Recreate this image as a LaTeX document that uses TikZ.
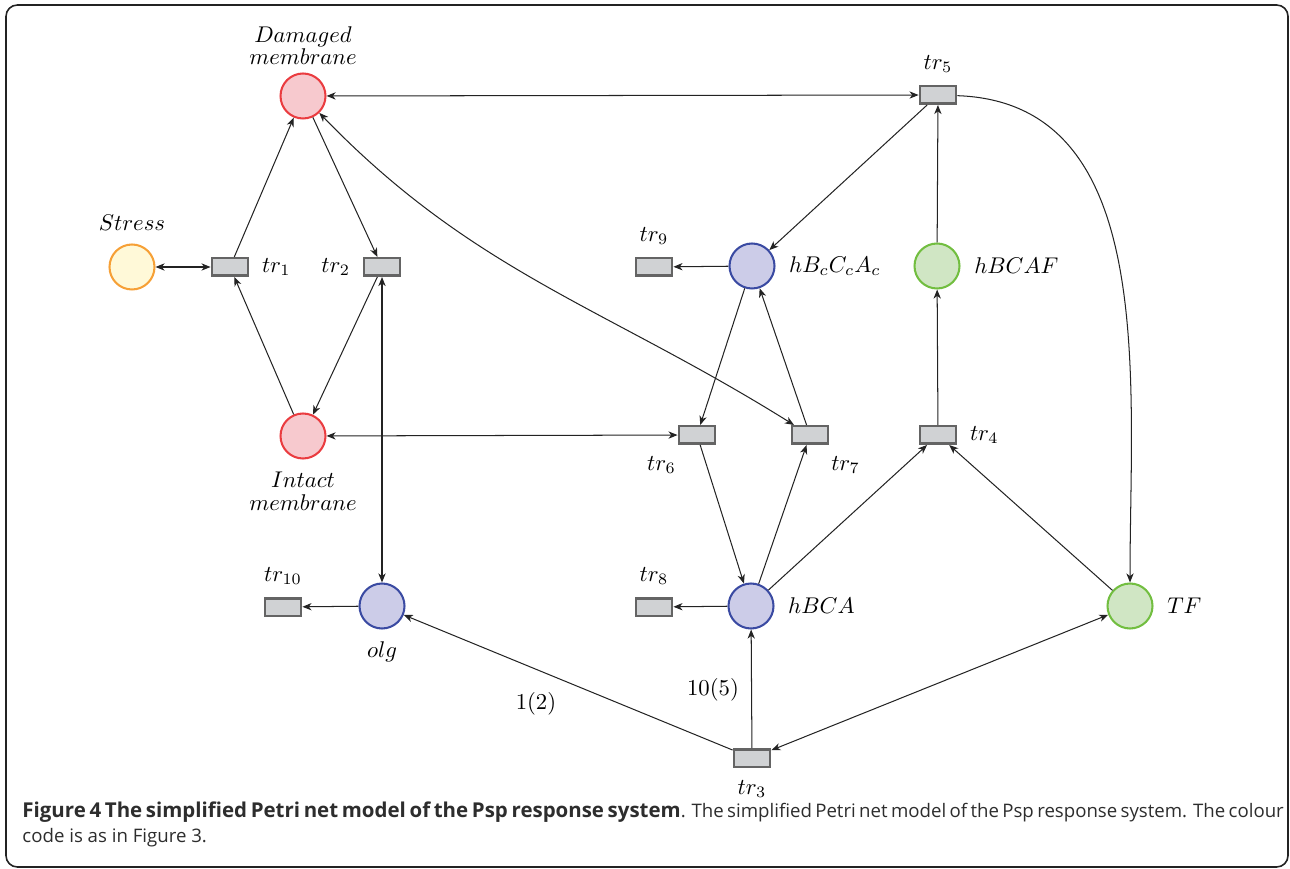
\documentclass[tikz,border=0pt]{standalone}
\usepackage{fontspec}
\setsansfont{Open Sans}
\usetikzlibrary{arrows.meta}

\definecolor{redline}{RGB}{234,60,64}
\definecolor{redfill}{RGB}{247,201,206}
\definecolor{orangeline}{RGB}{246,160,54}
\definecolor{yellowfill}{RGB}{255,249,216}
\definecolor{blueline}{RGB}{58,74,162}
\definecolor{bluefill}{RGB}{204,204,232}
\definecolor{greenline}{RGB}{114,190,64}
\definecolor{greenfill}{RGB}{208,230,196}
\definecolor{transline}{RGB}{100,100,100}
\definecolor{transfill}{RGB}{208,210,212}
\definecolor{inkgray}{RGB}{35,35,35}
\definecolor{captext}{RGB}{45,45,45}

\begin{document}
\begin{tikzpicture}[x=0.44pt,y=-0.44pt,
    >={Stealth[length=4pt,width=3.2pt,inset=1.2pt]},
    place/.style={circle,line width=0.9pt,minimum size=19.8pt,inner sep=0pt},
    redplace/.style={place,draw=redline,fill=redfill},
    yellowplace/.style={place,draw=orangeline,fill=yellowfill},
    blueplace/.style={place,draw=blueline,fill=bluefill},
    greenplace/.style={place,draw=greenline,fill=greenfill},
    trans/.style={rectangle,draw=transline,fill=transfill,line width=1.1pt,
      minimum width=16pt,minimum height=7.7pt,inner sep=0pt},
    flow/.style={line width=0.45pt,draw=inkgray},
    label distance=2pt]
    \useasboundingbox (0,0) rectangle (1290,869);
    \draw[line width=0.7pt,draw=inkgray,rounded corners=5pt] (6,5) rectangle (1288,867);

    \node[redplace,label={[align=center,label distance=0pt]above:{$Damaged$\\[-2.5pt]$membrane$}}] (damaged) at (303,96) {};
    \node[yellowplace,label=above:$Stress$] (stress) at (132,267) {};
    \node[redplace,label={[align=center]below:{$Intact$\\[-2pt]$membrane$}}] (intact) at (303,436) {};
    \node[blueplace,label=below:$olg$] (olg) at (382,606) {};
    \node[blueplace,label={[label distance=2.5pt]right:$hB_cC_cA_c$}] (hbcc) at (752,266) {};
    \node[greenplace,label={[label distance=2.5pt]right:$hBCAF$}] (hbcaf) at (937,266) {};
    \node[blueplace,label={[label distance=2.5pt]right:$hBCA$}] (hbca) at (751,606) {};
    \node[greenplace,label={[label distance=2.5pt]right:$TF$}] (tf) at (1130,606) {};

    \node[trans,label=right:$tr_1$] (tr1) at (230,267) {};
    \node[trans,label=left:$tr_2$] (tr2) at (382,267) {};
    \node[trans,label=below:$tr_3$] (tr3) at (752,758) {};
    \node[trans,label=right:$tr_4$] (tr4) at (938,435) {};
    \node[trans,label=above:$tr_5$] (tr5) at (938,95) {};
    \node[trans,label=below left:$tr_6$] (tr6) at (697,435) {};
    \node[trans,label=below right:$tr_7$] (tr7) at (810,435) {};
    \node[trans,label=above:$tr_8$] (tr8) at (654,607) {};
    \node[trans,label=above:$tr_9$] (tr9) at (654,267) {};
    \node[trans,label=above:$tr_{10}$] (tr10) at (283,607) {};

    \draw[flow,<->] (damaged) -- (tr5);
    \draw[flow,<->] (stress) -- (tr1);
    \draw[flow,->] (tr1) -- (damaged);
    \draw[flow,->] (intact) -- (tr1);
    \draw[flow,->] (damaged) -- (tr2);
    \draw[flow,->] (tr2) -- (intact);
    \draw[flow,<->] (tr2) -- (olg);
    \draw[flow,<->] (intact) -- (tr6);
    \draw[flow,<->] (damaged) to[out=-46,in=148] (tr7);
    \draw[flow,->] (tr5) -- (hbcc);
    \draw[flow,->] (hbcaf) -- (tr5);
    \draw[flow,->] (tr5) to[out=-2,in=90] (tf);
    \draw[flow,->] (hbcc) -- (tr9);
    \draw[flow,->] (hbcc) -- (tr6);
    \draw[flow,->] (tr7) -- (hbcc);
    \draw[flow,->] (tr4) -- (hbcaf);
    \draw[flow,->] (tr6) -- (hbca);
    \draw[flow,->] (hbca) -- (tr7);
    \draw[flow,->] (hbca) -- (tr4);
    \draw[flow,->] (tf) -- (tr4);
    \draw[flow,->] (hbca) -- (tr8);
    \draw[flow,->] (olg) -- (tr10);
    \draw[flow,->] (tr3) -- (olg);
    \draw[flow,->] (tr3) -- (hbca);
    \draw[flow,<->] (tf) -- (tr3);
    \node (w12) at (536,704) {$1(2)$};
    \node (w105) at (713,690) {$10(5)$};

    \node[anchor=north west,text width=555pt,align=justify,inner sep=0pt,
      font=\sffamily\fontsize{8.2}{11}\selectfont,text=captext] (caption) at (22,801)
      {{\fontsize{9}{11}\selectfont\bfseries Figure 4 The simplified Petri net model of the Psp response system}. The simplified Petri net model of the Psp response system. The colour\linebreak code is as in Figure 3.};
\end{tikzpicture}
\end{document}
